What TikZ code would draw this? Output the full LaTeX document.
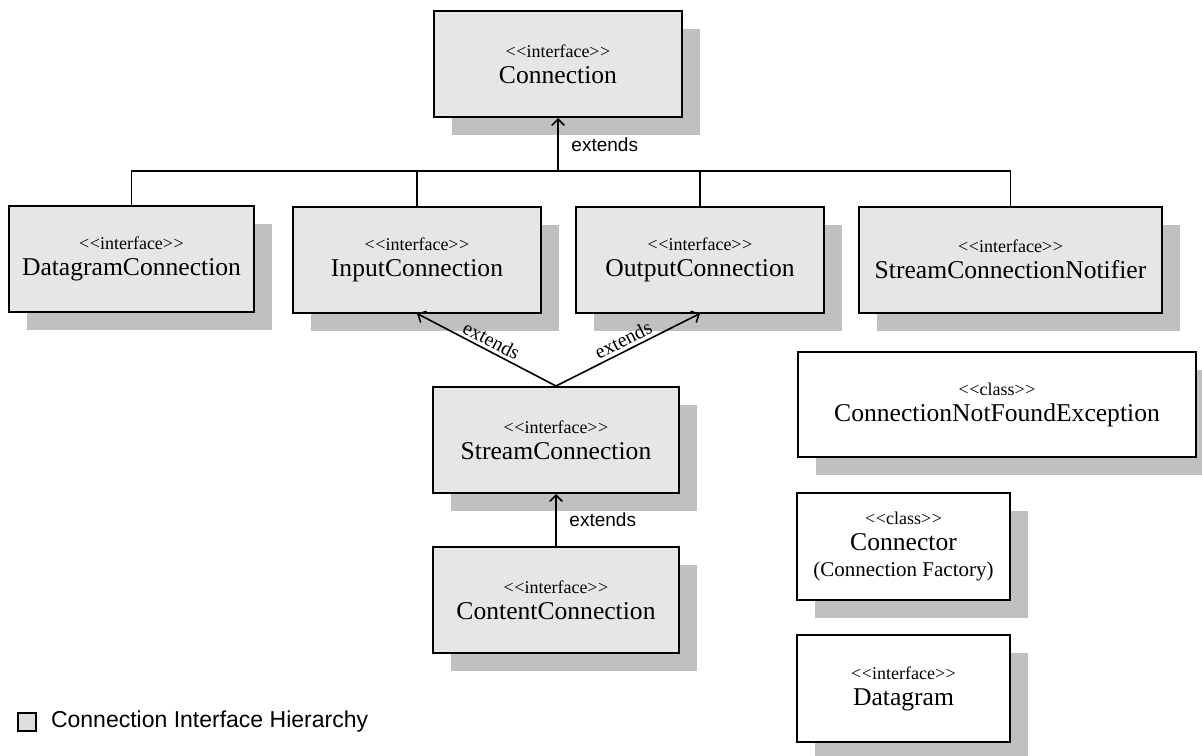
\documentclass[tikz,border=0pt]{standalone}
\usepackage{fontspec}
\setmainfont{Liberation Serif}
\newfontfamily\sansfont{Liberation Sans}
\usetikzlibrary{arrows,shadows}

\definecolor{ifacegray}{RGB}{230,230,230}
\definecolor{shadowgray}{RGB}{192,192,192}
\definecolor{keygray}{RGB}{222,222,222}

\newcommand{\stereo}[1]{{\fontsize{9}{10}\selectfont <\kern0.3pt<#1>\kern0.3pt>}}

\tikzset{
  umlbox/.style={draw, line width=1pt, align=center, inner sep=0pt,
    font=\fontsize{12.8}{13}\selectfont,
    general shadow={fill=shadowgray, shadow xshift=9pt, shadow yshift=-9pt}},
  iface/.style={umlbox, fill=ifacegray, minimum height=53pt},
  cls/.style={umlbox, fill=white},
  link/.style={line width=0.8pt},
  ext/.style={link, ->, >=angle 90},
  extsans/.style={font=\sansfont\fontsize{9.5}{11}\selectfont},
  extserif/.style={font=\fontsize{10}{11}\selectfont, inner sep=1.5pt}
}

\begin{document}
\begin{tikzpicture}[x=0.5pt,y=-0.5pt]
  \useasboundingbox (0,0) rectangle (1202,755);

  % interfaces
  \draw (558,64)    node[iface, minimum width=124pt] (conn) {\stereo{interface}\\Connection};
  \draw (131.5,259) node[iface, minimum width=122.5pt] (dgconn) {\stereo{interface}\\DatagramConnection};
  \draw (417,259.5) node[iface, minimum width=124pt] (inconn) {\stereo{interface}\\InputConnection};
  \draw (700,259.5) node[iface, minimum width=124pt] (outconn) {\stereo{interface}\\OutputConnection};
  \draw (1010.5,259.5) node[iface, minimum width=151.5pt] (notifier) {\stereo{interface}\\StreamConnectionNotifier};
  \draw (556,440)   node[iface, minimum width=123pt] (streamconn) {\stereo{interface}\\StreamConnection};
  \draw (556,600)   node[iface, minimum width=123pt] (contconn) {\stereo{interface}\\ContentConnection};

  % other classes
  \draw (997,404.5) node[cls, minimum width=199pt, minimum height=52.5pt] (notfound) {\stereo{class}\\ConnectionNotFoundException};
  \draw (903.5,546.5) node[cls, minimum width=106.5pt, minimum height=53.5pt] (connector)
    {\stereo{class}\\Connector\\{\fontsize{10.5}{12}\selectfont(Connection Factory)}};
  \draw (903.5,688.5) node[cls, minimum width=106.5pt, minimum height=53.5pt] (datagram) {\stereo{interface}\\Datagram};

  % extends
  \coordinate (bus) at (558,171);
  \draw[link] (dgconn.north) |- (bus);
  \draw[link] (notifier.north) |- (bus);
  \draw[link] (inconn.north) -- (inconn.north |- bus);
  \draw[link] (outconn.north) -- (outconn.north |- bus);
  \draw[ext] (bus) -- node[right, extsans, xshift=3pt] {extends} (conn.south);
  \draw[ext] (streamconn.north) -- node[sloped, above, extserif] {extends} (inconn.south);
  \draw[ext] (streamconn.north) -- node[sloped, above, extserif] {extends} (outconn.south);
  \draw[ext] (contconn.north) -- node[right, extsans, xshift=3pt] {extends} (streamconn.south);

  % key
  \draw (27,722) node[draw, line width=0.8pt, fill=keygray, minimum size=9pt, inner sep=0pt] (key) {};
  \draw (44,722) node[right, font=\sansfont\fontsize{11.5}{13}\selectfont] (keytext) {Connection Interface Hierarchy};

\end{tikzpicture}
\end{document}
